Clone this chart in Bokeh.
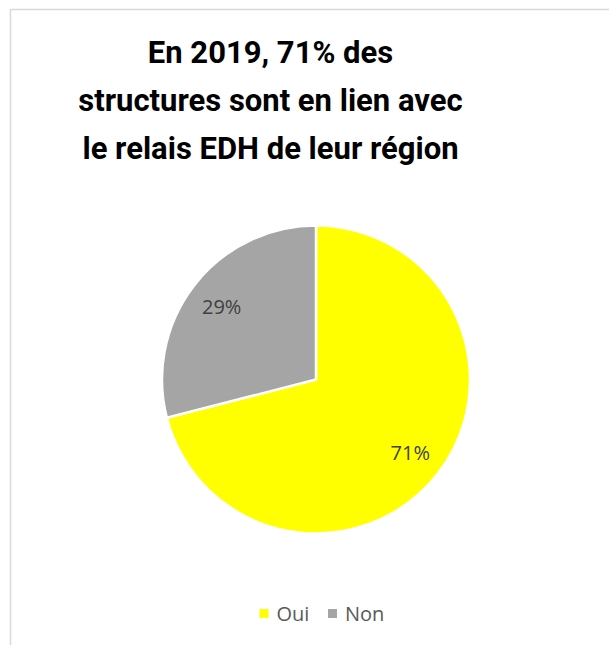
import math
from bokeh.plotting import figure
from bokeh.embed import file_html
from bokeh.resources import INLINE
from bokeh.core.properties import value
from bokeh.models import ColumnDataSource

categories = ["Oui", "Non"]
values = [71, 29]
colors = ["#FFFF00", "#A5A5A5"]
title_lines = ["En 2019, 71% des", "structures sont en lien avec", "le relais EDH de leur région"]

W, H = 609, 645
p = figure(width=W, height=H, x_range=(0, W), y_range=(0, H),
           output_backend="svg", toolbar_location=None, min_border=0,
           outline_line_color=None)
p.axis.visible = False
p.grid.visible = False
p.background_fill_color = "white"
p.border_fill_color = "white"

def Y(sy):
    return H - sy

# chart border
p.line(x=[10, 10, 700], y=[Y(700), Y(9), Y(9)], line_color="#D9D9D9", line_width=1.5)

# title
tx = 270
for i, line in enumerate(title_lines):
    p.text(x=[tx], y=[Y(52 + 48 * i)], text=[line], text_align="center", text_baseline="alphabetic",
           text_font=value("Roboto"), text_font_style="bold",
           text_font_size="31px", text_color="#000000")

# pie
cx, cy, R = 315.5, Y(379), 154
total = sum(values)
starts, ends, mids = [], [], []
acc = 0
for v in values:
    a0 = math.pi / 2 - 2 * math.pi * acc / total
    acc += v
    a1 = math.pi / 2 - 2 * math.pi * acc / total
    starts.append(a0)
    ends.append(a1)
    mids.append((a0 + a1) / 2)

src = ColumnDataSource(dict(start=starts, end=ends, color=colors))
p.wedge(x=cx, y=cy, radius=R, start_angle="start", end_angle="end", direction="clock",
        fill_color="color", line_color="white", line_width=2.5, source=src)

lr = 0.775 * R
lx = [cx + lr * math.cos(m) for m in mids]
ly = [cy + lr * math.sin(m) for m in mids]
labels = [f"{v * 100 // total}%" for v in values]
p.text(x=lx, y=ly, text=labels, text_align="center", text_baseline="middle",
       text_font=value("Open Sans"), text_font_size="20px", text_color="#404040")

# legend
leg_x = [263.5, 332]
leg_y = Y(613)
p.rect(x=leg_x, y=leg_y, width=9, height=9, fill_color=colors, line_color=None)
p.text(x=[x + 12.5 for x in leg_x], y=leg_y, text=categories, text_align="left", text_baseline="middle",
       text_font=value("Open Sans"), text_font_size="20px", text_color="#595959")

open("out.html", "w").write(file_html(p, INLINE))
